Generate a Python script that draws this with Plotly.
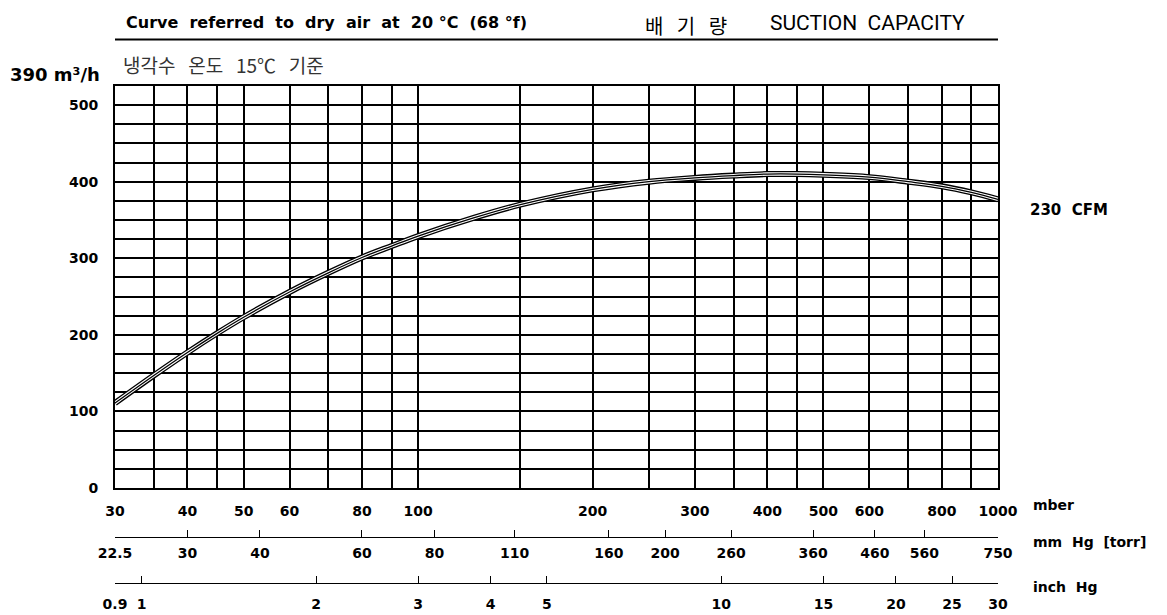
import math
import plotly.graph_objects as go

# ---------------- data ----------------
pressure_mbar = [30, 35, 40, 45, 50, 60, 70, 80, 90, 100, 125, 150, 200, 250,
                 300, 350, 400, 450, 500, 600, 700, 800, 900, 1000]
capacity_m3h = [111, 147, 177, 202, 223, 256, 281, 301, 316, 329, 353, 370, 390, 400,
                405, 408, 410, 410, 409, 406, 400, 394, 386, 377]

mbar_ticks = [30, 40, 50, 60, 80, 100, 200, 300, 400, 500, 600, 800, 1000]
mbar_minor = [35, 45, 70, 90, 150, 250, 350, 450, 700, 900]
mmhg_ticks = [22.5, 30, 40, 60, 80, 110, 160, 200, 260, 360, 460, 560, 750]
inhg_ticks = [0.9, 1, 2, 3, 4, 5, 10, 15, 20, 25, 30]
y_ticks = [0, 100, 200, 300, 400, 500]

# ---------------- layout helpers ----------------
# page body has an 8px default margin; positions below are in screen pixels
W, H = 1167, 615
OFF = 8
L, R, T, B = 115, 998, 86, 610          # screen-pixel frame of the paper area
PW, PH = R - L, B - T


def px(x):
    return (x - L) / PW


def py(y):
    return (B - y) / PH


BOLD = dict(family="DejaVu Sans", size=14, color="black", weight="bold")
NB = "\u00a0"

fig = go.Figure()

# triple-line curve: black / white / black
for w, c in [(6, "black"), (3.4, "white"), (1.3, "black")]:
    fig.add_trace(go.Scatter(x=pressure_mbar, y=capacity_m3h, mode="lines",
                             line=dict(color=c, width=w, shape="spline", smoothing=1.0),
                             hoverinfo="skip", showlegend=False))

# invisible traces to activate the secondary pressure axes
fig.add_trace(go.Scatter(x=mmhg_ticks, y=[0] * len(mmhg_ticks), xaxis="x2", yaxis="y",
                         mode="markers", marker=dict(opacity=0), hoverinfo="skip",
                         showlegend=False))
fig.add_trace(go.Scatter(x=inhg_ticks, y=[0] * len(inhg_ticks), xaxis="x3", yaxis="y",
                         mode="markers", marker=dict(opacity=0), hoverinfo="skip",
                         showlegend=False))

ybot = py(488)

fig.update_layout(
    width=W, height=H,
    margin=dict(l=L - OFF, r=W - (R - OFF), t=T - OFF, b=H - (B - OFF), pad=0,
                autoexpand=False),
    plot_bgcolor="white", paper_bgcolor="white",
    showlegend=False,
    xaxis=dict(
        type="log", range=[math.log10(30), 3], domain=[0, 1], anchor="y",
        tickmode="array", tickvals=mbar_ticks, ticktext=[str(v) for v in mbar_ticks],
        showgrid=True, gridcolor="black", gridwidth=2,
        minor=dict(tickmode="array", tickvals=mbar_minor, showgrid=True,
                   gridcolor="black", gridwidth=2, ticks=""),
        showline=True, linecolor="black", linewidth=2, mirror=True,
        ticks="", ticklabelstandoff=9, tickfont=BOLD, zeroline=False, automargin=False,
    ),
    xaxis2=dict(
        type="log", range=[math.log10(22.5), math.log10(750)],
        overlaying="x", anchor="free", position=py(537), side="bottom",
        tickmode="array", tickvals=mmhg_ticks, ticktext=[str(v) for v in mmhg_ticks],
        showgrid=False, showline=True, linecolor="black", linewidth=1,
        ticks="inside", ticklen=7, tickwidth=1.2, tickcolor="black",
        ticklabelstandoff=3, tickfont=BOLD, zeroline=False, automargin=False,
    ),
    xaxis3=dict(
        type="log", range=[math.log10(0.9), math.log10(30)],
        overlaying="x", anchor="free", position=py(583), side="bottom",
        tickmode="array", tickvals=inhg_ticks, ticktext=[str(v) for v in inhg_ticks],
        showgrid=False, showline=True, linecolor="black", linewidth=1,
        ticks="inside", ticklen=7, tickwidth=1.2, tickcolor="black",
        ticklabelstandoff=8, tickfont=BOLD, zeroline=False, automargin=False,
    ),
    yaxis=dict(
        range=[0, 525], domain=[ybot, 1],
        tickmode="array", tickvals=y_ticks, ticktext=[str(v) for v in y_ticks],
        showgrid=True, gridcolor="black", gridwidth=1.6,
        minor=dict(dtick=25, showgrid=True, gridcolor="black", gridwidth=1.6, ticks=""),
        showline=True, linecolor="black", linewidth=2, mirror=True,
        ticks="", ticklabelstandoff=12, tickfont=BOLD, zeroline=False, automargin=False,
    ),
)

ann = []
ann.append(dict(text=("Curve" + NB * 2 + "referred" + NB * 2 + "to" + NB * 2 + "dry" + NB * 2 +
                      "air" + NB * 2 + "at" + NB * 2 + "20" + NB + "°C" + NB * 2 + "(68" + NB + "°f)"),
                x=px(124), y=py(22), xanchor="left", yanchor="middle",
                font=dict(family="DejaVu Sans", size=16, color="black", weight="bold")))
ann.append(dict(text="배" + NB * 3 + "기" + NB * 3 + "량",
                x=px(686), y=py(OFF + 1), xanchor="center", yanchor="top",
                font=dict(family="Noto Sans CJK KR", size=20, color="black")))
ann.append(dict(text="SUCTION" + NB * 2 + "CAPACITY",
                x=px(768), y=py(OFF + 1), xanchor="left", yanchor="top",
                font=dict(family="Roboto", size=21, color="black")))
ann.append(dict(text="390 m³/h",
                x=px(102), y=py(74), xanchor="right", yanchor="middle",
                font=dict(family="DejaVu Sans", size=18, color="black", weight="bold")))
ann.append(dict(text="냉각수" + NB * 3 + "온도" + NB * 3 + "15℃" + NB * 3 + "기준",
                x=px(121), y=py(65), xanchor="left", yanchor="middle",
                font=dict(family="Noto Sans CJK KR", size=19, color="#333333")))
ann.append(dict(text="230" + NB * 2 + "CFM",
                x=px(1028), y=py(210), xanchor="left", yanchor="middle",
                font=BOLD | dict(size=15)))
ann.append(dict(text="mber", x=px(1031), y=py(505), xanchor="left", yanchor="middle",
                font=BOLD))
ann.append(dict(text="mm" + NB * 2 + "Hg" + NB * 2 + "[torr]", x=px(1031), y=py(542),
                xanchor="left", yanchor="middle", font=BOLD))
ann.append(dict(text="inch" + NB * 2 + "Hg", x=px(1031), y=py(587), xanchor="left",
                yanchor="middle", font=BOLD))
for a in ann:
    a.update(xref="paper", yref="paper", showarrow=False)
fig.update_layout(annotations=ann)

# rule under the titles
fig.add_shape(type="line", xref="paper", yref="paper", x0=0, x1=1, y0=py(39.5), y1=py(39.5),
              line=dict(color="black", width=2))

fig.write_html("out.html")
